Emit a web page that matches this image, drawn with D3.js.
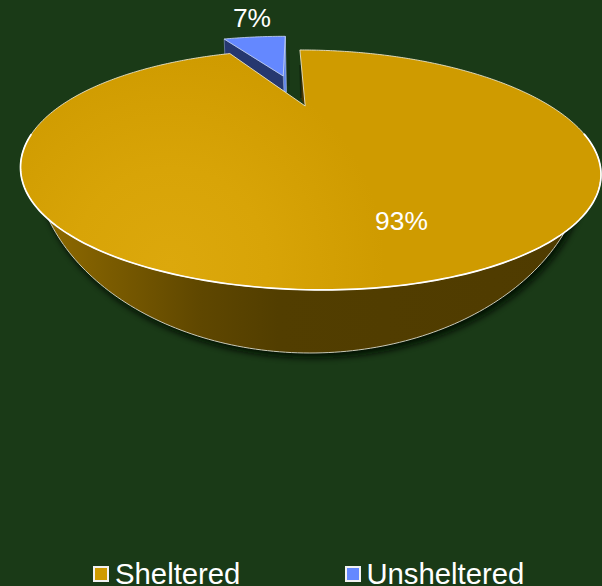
<!DOCTYPE html>
<html><head><meta charset="utf-8">
<script src="https://cdn.jsdelivr.net/npm/d3@7"></script>
<style>html,body{margin:0;padding:0;background:#1a3a17;overflow:hidden}svg{display:block}</style>
</head><body><div id="c"></div>
<script>
const categories = ["Sheltered", "Unsheltered"];
const values = [93, 7];
const colors = ["#cf9b00", "#6488ff"];

const W = 602, H = 586;
const svg = d3.select("#c").append("svg").attr("width", W).attr("height", H)
  .style("font-family", "'Liberation Sans',Arial,sans-serif");
svg.append("rect").attr("width", W).attr("height", H).attr("fill", "#1a3a17");

const defs = svg.append("defs");
const shadow = defs.append("filter").attr("id", "sh").attr("x", "-10%").attr("y", "-10%").attr("width", "120%").attr("height", "130%");
shadow.append("feGaussianBlur").attr("stdDeviation", 3);

const wallGrad = defs.append("linearGradient").attr("id", "wall")
  .attr("gradientUnits", "userSpaceOnUse").attr("x1", 45).attr("x2", 600).attr("y1", 0).attr("y2", 0);
[[0, "#8f6a00"], [0.12, "#7a5b00"], [0.28, "#5f4700"], [0.42, "#523e00"], [1, "#4f3b00"]]
  .forEach(([o, c]) => wallGrad.append("stop").attr("offset", o).attr("stop-color", c));

const topGrad = defs.append("radialGradient").attr("id", "top")
  .attr("gradientUnits", "userSpaceOnUse").attr("cx", 170).attr("cy", 265).attr("r", 215);
[[0, "#dca80c"], [0.45, "#d8a407"], [1, "#cf9b00"]]
  .forEach(([o, c]) => topGrad.append("stop").attr("offset", o).attr("stop-color", c));

// pie angles through d3.pie, clockwise from the far side of the disc
const pie = d3.pie().sort(null).startAngle(0).endAngle(2 * Math.PI);
const arcs = pie(values);
const [shelter, unshelter] = arcs;

// perspective mapping of the unit disc onto the screen
const k = 0.533;
function proj(u, v) {
  const d = 1 - k * v;
  const bulge = 16 * Math.max(0, -u) * Math.pow(Math.max(0, v), 4);
  return [290 + (245 * u + 15.2) / d - bulge, 106 + 85.9 * v / d];
}
const onDisc = a => [Math.sin(a), -Math.cos(a)];
const line = d3.line();
function arcPts(a0, a1, ox = 0, oy = 0, n = 160) {
  const s = d3.scaleLinear().domain([0, n]).range([a0, a1]);
  return d3.range(n + 1).map(i => {
    const [u, v] = onDisc(s(i));
    return proj(u + ox, v + oy);
  });
}

// lower wall of the large slice: tapered outline
const wallAngle = d3.scaleLinear().domain([0, 120]).range([1.817, 4.467]);
const wallPts = d3.range(121).map(i => {
  const [u, v] = onDisc(wallAngle(i));
  return [310 + 276 * u, 156 + 197 * v];
});

// shadow under the wall
svg.append("path").attr("d", line(wallPts) + "Z")
  .attr("transform", "translate(3,5)")
  .attr("fill", "#041004").attr("opacity", 0.9).attr("filter", "url(#sh)");

// exploded small slice
const mid = (unshelter.startAngle + unshelter.endAngle) / 2;
const dist = 0.44;
const ex = Math.sin(mid) * dist, ey = -Math.cos(mid) * dist;
const blueTop = [proj(ex, ey), ...arcPts(unshelter.startAngle, unshelter.endAngle, ex, ey, 24)];
const apex = blueTop[0], outerL = blueTop[1], outerR = blueTop[blueTop.length - 1];
const depth = 15;
const down = (p, d) => [p[0] + 0.6, p[1] + d];

// its shadow
svg.append("path").attr("d", line([apex, outerR, down(outerR, 56), down(apex, depth + 4)]) + "Z")
  .attr("transform", "translate(3,2)").attr("fill", "#061506").attr("opacity", .6).attr("filter", "url(#sh)");

// cut faces of the small slice
svg.append("path").attr("d", line([outerR, apex, down(apex, depth + 1), [outerR[0] + 1.2, outerR[1] + 56]]) + "Z")
  .attr("fill", "#5f85ea").attr("stroke", "#b9c8f5").attr("stroke-width", 0.6);
svg.append("path").attr("d", line([outerL, apex, down(apex, depth), down(outerL, depth)]) + "Z")
  .attr("fill", "#26386f").attr("stroke", "#9fb0de").attr("stroke-width", 0.5);
svg.append("path").attr("d", line(blueTop) + "Z")
  .attr("fill", colors[1]).attr("stroke", "#c9d5f7").attr("stroke-width", 0.8);

// inner sliver seen in the gap
const shelterTop = [proj(0, 0), ...arcPts(shelter.startAngle, shelter.endAngle, 0, 0, 400)];
const a0 = shelterTop[0], b0 = shelterTop[1];
const sliverEnd = [b0[0] + (a0[0] - b0[0]) * 0.27, b0[1] + (a0[1] - b0[1]) * 0.27];
svg.append("path").attr("d", line([sliverEnd, a0, [a0[0] - 4.5, a0[1] - 8]]) + "Z")
  .attr("fill", "#4a3700");
svg.append("path").attr("d", line([[sliverEnd[0] - 2, sliverEnd[1]], [a0[0] - 5, a0[1] - 8], [a0[0] - 3.5, a0[1] - 8], [sliverEnd[0] - .3, sliverEnd[1]]]) + "Z")
  .attr("fill", "#0c1f0b").attr("opacity", .8);

// wall
svg.append("path").attr("d", line(wallPts) + "Z")
  .attr("fill", "url(#wall)").attr("stroke", "#c9c9b8").attr("stroke-width", 1);

// top face of the large slice
svg.append("path").attr("d", line(shelterTop) + "Z")
  .attr("fill", "url(#top)").attr("stroke", "#e9e2c8").attr("stroke-width", 0.9).attr("stroke-linejoin", "round");
// brighter near edge
const nearEdge = arcPts(1.85, 4.43, 0, 0, 160);
svg.append("path").attr("d", line(nearEdge)).attr("fill", "none").attr("stroke", "#ffffff").attr("stroke-width", 1.7);

// value labels
const total = d3.sum(values);
const pct = d3.format(".0%");
const labelPos = [[401.5, 230], [252, 27]];
svg.selectAll("text.val").data(arcs).join("text").attr("class", "val")
  .attr("x", (d, i) => labelPos[i][0]).attr("y", (d, i) => labelPos[i][1])
  .attr("text-anchor", "middle").attr("font-size", 26.4).attr("fill", "#fff")
  .text(d => pct(d.value / total));

// legend
const legendX = d3.scalePoint().domain(categories).range([93, 345]);
const lg = svg.selectAll("g.lg").data(categories).join("g").attr("class", "lg")
  .attr("transform", d => `translate(${legendX(d)},566)`);
lg.append("rect").attr("x", 1).attr("y", 1).attr("width", 14).attr("height", 14)
  .attr("fill", (d, i) => colors[i]).attr("stroke", "#f2f2f2").attr("stroke-width", 2);
lg.append("text").attr("x", (d, i) => i ? 21.4 : 22).attr("y", 18).attr("font-size", 29.3).attr("fill", "#fff").text(d => d);
</script></body></html>
